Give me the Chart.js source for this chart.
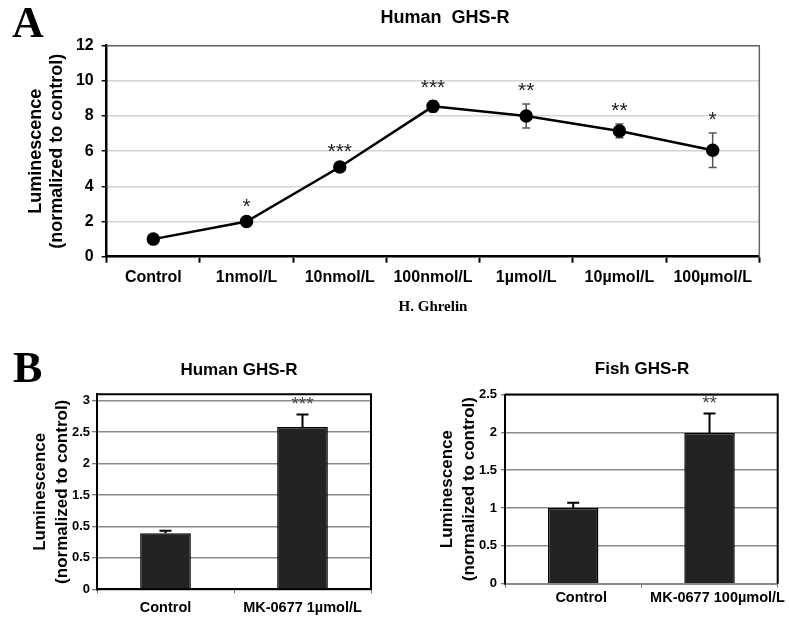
<!DOCTYPE html>
<html><head><meta charset="utf-8">
<script src="https://cdn.jsdelivr.net/npm/chart.js@4"></script>
<style>
html,body{margin:0;padding:0;background:#fff;}
#wrap{position:relative;width:789px;height:619px;overflow:hidden;background:#fff;}
canvas{position:absolute;}
.lbl{position:absolute;white-space:pre;color:#000;line-height:1;}
.panel{font-family:"Liberation Serif","Times New Roman",serif;font-weight:bold;font-size:44px;}
.ttl{font-family:"Liberation Sans",Arial,sans-serif;font-weight:bold;transform:translate(-50%,-50%);}
</style></head><body>
<div id="wrap">
<canvas id="cA" width="789" height="325" style="left:0;top:0"></canvas>
<canvas id="cB1" width="395" height="289" style="left:0;top:330px"></canvas>
<canvas id="cB2" width="394" height="289" style="left:395px;top:330px"></canvas>
<div class="lbl panel" style="left:12px;top:1px">A</div>
<div class="lbl panel" style="left:13px;top:346px">B</div>
<div class="lbl ttl" style="left:445px;top:17px;font-size:18px">Human  GHS-R</div>
<div class="lbl ttl" style="left:239px;top:369px;font-size:17px">Human GHS-R</div>
<div class="lbl ttl" style="left:642px;top:368px;font-size:17px">Fish GHS-R</div>
</div>
<script>
// ---- Panel A data ----
const doseLabels = ['Control','1nmol/L','10nmol/L','100nmol/L','1µmol/L','10µmol/L','100µmol/L'];
const doseMeans = [1.0, 2.0, 5.1, 8.55, 8.0, 7.15, 6.05];
const doseErrors = [0.05, 0.06, 0.1, 0.3, 0.68, 0.39, 0.98];
const doseStars = ['', '*', '***', '***', '**', '**', '*'];
const doseTickVals = [0, 2, 4, 6, 8, 10, 12];

// ---- Panel B, human ----
const humanLabels = ['Control', 'MK-0677 1µmol/L'];
const humanMeans = [0.89, 2.58];
const humanErrors = [0.04, 0.2];
const humanStars = ['', '***'];
const humanTickVals = [0, 0.5, 1, 1.5, 2, 2.5, 3];
const humanTickLabels = ['0', '0.5', '0.5', '1.5', '2', '2.5', '3'];

// ---- Panel B, fish ----
const fishLabels = ['Control', 'MK-0677 100µmol/L'];
const fishMeans = [1.0, 1.99];
const fishErrors = [0.07, 0.26];
const fishStars = ['', '**'];
const fishTickVals = [0, 0.5, 1, 1.5, 2, 2.5];
const fishTickLabels = ['0', '0.5', '1', '1.5', '2', '2.5'];

const SANS = '"Liberation Sans", Arial, sans-serif';
const SERIF = '"Liberation Serif", "Times New Roman", serif';

function drawErr(chart, o) {
  const meta = chart.getDatasetMeta(0), ys = chart.scales.y, vals = chart.data.datasets[0].data, ctx = chart.ctx;
  ctx.save(); ctx.strokeStyle = o.color; ctx.lineWidth = o.width;
  vals.forEach((v, i) => {
    const e = o.errors[i]; if (!e) return;
    const x = meta.data[i].x;
    const yt = ys.getPixelForValue(v + e);
    const yb = o.upperOnly ? ys.getPixelForValue(v) : ys.getPixelForValue(v - e);
    ctx.beginPath();
    ctx.moveTo(x, yt); ctx.lineTo(x, yb);
    ctx.moveTo(x - o.cap, yt); ctx.lineTo(x + o.cap, yt);
    if (!o.upperOnly) { ctx.moveTo(x - o.cap, yb); ctx.lineTo(x + o.cap, yb); }
    ctx.stroke();
  });
  ctx.restore();
}
function drawStars(chart, o) {
  const meta = chart.getDatasetMeta(0), ys = chart.scales.y, vals = chart.data.datasets[0].data, ctx = chart.ctx;
  ctx.save(); ctx.font = o.starFont; ctx.fillStyle = o.starColor; ctx.textAlign = 'center'; ctx.textBaseline = 'alphabetic';
  vals.forEach((v, i) => {
    const s = o.stars[i]; if (!s) return;
    const x = meta.data[i].x;
    const yt = ys.getPixelForValue(v + (o.errors[i] || 0));
    ctx.fillText(s, x, yt - o.starGap);
  });
  ctx.restore();
}
const annotPlugin = {
  id: 'annot',
  beforeDatasetsDraw(chart, args, o) { if (o.behind) drawErr(chart, o); },
  afterDatasetsDraw(chart, args, o) { if (!o.behind) drawErr(chart, o); drawStars(chart, o); }
};
const framePlugin = {
  id: 'frame',
  afterDraw(chart, args, o) {
    const ctx = chart.ctx, a = chart.chartArea;
    ctx.save(); ctx.strokeStyle = o.color; ctx.lineWidth = o.width;
    ctx.beginPath(); ctx.moveTo(a.left, a.top); ctx.lineTo(a.right, a.top); ctx.lineTo(a.right, a.bottom); ctx.stroke();
    ctx.restore();
  }
};

// ---- Chart A ----
new Chart(document.getElementById('cA'), {
  type: 'line',
  data: { labels: doseLabels, datasets: [{ data: doseMeans, borderColor: '#000', borderWidth: 2.5,
    pointRadius: 5.5, pointBackgroundColor: '#000', pointBorderColor: '#000', tension: 0 }] },
  options: {
    responsive: false, animation: false, devicePixelRatio: 1,
    layout: { padding: { top: 45.7, right: 29.7, left: 0, bottom: 0 } },
    plugins: { legend: { display: false }, tooltip: { enabled: false },
      annot: { errors: doseErrors, stars: doseStars, behind: true, color: '#555', width: 1.5, cap: 4, upperOnly: false,
        starFont: '21px ' + SANS, starColor: '#222', starGap: 7 },
      frame: { color: '#666', width: 1.5 } },
    scales: {
      x: { offset: true,
        grid: { offset: true, drawOnChartArea: false, drawTicks: true, tickLength: 6, tickColor: '#000', tickWidth: 2 },
        border: { color: '#000', width: 2.5 },
        ticks: { color: '#000', font: { family: SANS, size: 16, weight: 'bold' }, padding: 5, maxRotation: 0, autoSkip: false },
        title: { display: true, text: 'H. Ghrelin', color: '#000', font: { family: SERIF, size: 15, weight: 'bold', lineHeight: 1.2 }, padding: { top: 0, bottom: 9 } },
        afterFit: s => { s.height = 68.3; } },
      y: { min: 0, max: 12,
        afterBuildTicks: s => { s.ticks = doseTickVals.map(v => ({ value: v })); },
        grid: { color: '#d4d4d4', lineWidth: 1.5, tickLength: 5, tickColor: '#000', tickWidth: 1.5 },
        border: { color: '#000', width: 2.5 },
        ticks: { color: '#000', font: { family: SANS, size: 16, weight: 'bold' }, padding: 8 },
        title: { display: true, text: ['Luminescence', '(normalized to control)'], color: '#000',
          font: { family: SANS, size: 18, weight: 'bold', lineHeight: 1.2 }, padding: { top: 25, bottom: 0 } },
        afterFit: s => { s.width = 106.7; } }
    }
  },
  plugins: [annotPlugin, framePlugin]
});

function barChart(id, labels, means, errors, stars, tickVals, tickLabels, yMax, geo) {
  return new Chart(document.getElementById(id), {
    type: 'bar',
    data: { labels: labels, datasets: [{ data: means, backgroundColor: '#232323', borderColor: '#000', borderWidth: 1.5,
      barPercentage: 0.37, categoryPercentage: 1 }] },
    options: {
      responsive: false, animation: false, devicePixelRatio: 1,
      layout: { padding: { top: geo.top, right: geo.right, left: 0, bottom: 0 } },
      plugins: { legend: { display: false }, tooltip: { enabled: false },
        annot: { errors: errors, stars: stars, behind: false, color: '#000', width: 2, cap: 6, upperOnly: true,
          starFont: '19px ' + SANS, starColor: '#444', starGap: 4 },
        frame: { color: '#000', width: 2 } },
      scales: {
        x: { grid: { offset: true, drawOnChartArea: false, drawTicks: true, tickLength: 4, tickColor: '#777', tickWidth: 1 },
          border: { color: geo.xBorder, width: 2 },
          ticks: { color: '#000', font: { family: SANS, size: 14.5, weight: 'bold' }, padding: geo.xPad, labelOffset: geo.labelOffset, maxRotation: 0, autoSkip: false },
          afterFit: s => { s.height = geo.xH; } },
        y: { min: 0, max: yMax,
          afterBuildTicks: s => { s.ticks = tickVals.map(v => ({ value: v })); },
          grid: { color: '#8a8a8a', lineWidth: 1.5, tickLength: geo.yTick, tickColor: '#555', tickWidth: 1 },
          border: { color: '#000', width: 2 },
          ticks: { color: '#000', font: { family: SANS, size: 13, weight: 'bold' }, padding: geo.yPad,
            callback: (v, i) => tickLabels[i] },
          title: { display: true, text: ['Luminescence', '(normalized to control)'], color: '#000',
            font: { family: SANS, size: 17, weight: 'bold', lineHeight: geo.lh }, padding: { top: geo.titlePad, bottom: 0 } },
          afterFit: s => { s.width = geo.yW; } }
      }
    },
    plugins: [annotPlugin, framePlugin]
  });
}

barChart('cB1', humanLabels, humanMeans, humanErrors, humanStars, humanTickVals, humanTickLabels, 3.1,
  { top: 64.3, right: 24, xH: 29.7, yW: 97, xPad: 6, yPad: 2, yTick: 5, lh: 1.3, titlePad: 29, labelOffset: 0, xBorder: '#000' });
barChart('cB2', fishLabels, fishMeans, fishErrors, fishStars, fishTickVals, fishTickLabels, 2.5,
  { top: 64.5, right: 11.3, xH: 35.3, yW: 110, xPad: 2, yPad: 4, yTick: 4, lh: 1.32, titlePad: 41, labelOffset: 8, xBorder: '#8a8a8a' });
</script>
</body></html>
